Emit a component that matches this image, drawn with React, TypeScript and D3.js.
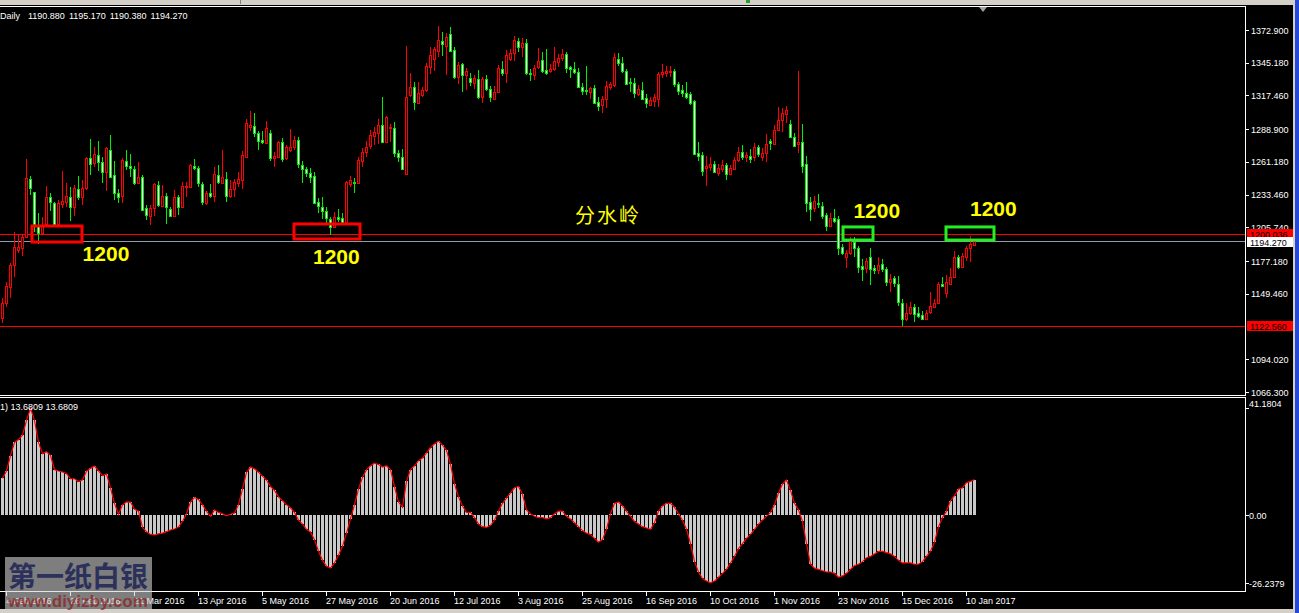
import React from "react";
import * as d3 from "d3";

// ---------- DATA ----------
const opens = [1128.7,1142.0,1155.0,1173.9,1186.6,1188.6,1197.3,1246.5,1235.4,1207.8,1200.7,1208.6,1231.2,1226.1,1208.6,1225.3,1227.5,1231.8,1223.3,1238.0,1231.8,1239.4,1264.3,1260.0,1267.1,1261.4,1253.0,1271.3,1250.1,1234.6,1232.6,1262.0,1258.0,1255.2,1243.6,1248.1,1221.9,1215.7,1221.9,1241.7,1224.2,1232.6,1221.3,1215.7,1231.2,1222.7,1239.7,1239.7,1257.7,1255.8,1242.5,1226.1,1234.6,1232.3,1250.1,1243.1,1246.5,1232.6,1238.3,1243.6,1245.9,1265.7,1291.1,1291.6,1285.4,1279.8,1277.5,1285.4,1264.3,1265.7,1277.8,1264.3,1271.3,1273.6,1279.8,1258.6,1254.9,1251.5,1249.3,1227.0,1223.3,1219.9,1212.6,1205.8,1214.8,1213.4,1210.6,1242.5,1244.5,1243.6,1262.3,1269.3,1274.7,1283.1,1285.4,1292.5,1278.4,1289.7,1289.7,1268.5,1265.1,1251.0,1317.9,1324.4,1310.8,1317.9,1322.1,1341.9,1348.1,1355.4,1363.9,1359.4,1369.3,1356.0,1333.4,1343.9,1334.8,1332.0,1327.8,1331.4,1315.9,1331.1,1322.7,1314.5,1320.1,1339.6,1336.2,1348.4,1353.7,1363.6,1358.8,1361.6,1336.2,1334.8,1341.3,1347.5,1339.1,1338.5,1339.6,1346.1,1348.9,1352.3,1341.3,1339.6,1337.6,1324.4,1322.1,1320.7,1323.5,1311.7,1309.4,1314.2,1324.4,1326.3,1348.1,1345.3,1338.2,1329.2,1327.8,1318.7,1322.1,1315.1,1309.4,1313.1,1314.5,1335.7,1336.8,1337.1,1338.2,1327.2,1322.1,1319.9,1318.7,1312.8,1268.5,1267.1,1255.8,1256.6,1259.4,1251.5,1255.2,1258.6,1251.0,1254.9,1262.8,1269.3,1265.7,1266.2,1265.1,1273.6,1265.7,1268.5,1278.9,1276.4,1288.2,1296.7,1301.8,1293.0,1282.0,1276.4,1278.1,1259.2,1227.5,1221.9,1226.7,1224.2,1216.3,1207.2,1213.4,1212.6,1189.4,1181.0,1183.8,1193.7,1188.6,1173.3,1171.1,1180.9,1171.1,1169.7,1174.5,1170.5,1159.8,1162.6,1157.5,1142.0,1128.2,1133.5,1138.6,1132.9,1131.5,1128.2,1133.8,1138.6,1142.0,1157.5,1150.5,1157.8,1163.4,1180.4,1172.5,1180.4,1188.0,1190.88];
const highs = [1145.7,1159.8,1175.3,1201.9,1199.3,1199.3,1263.4,1249.3,1236.0,1217.7,1214.3,1240.8,1234.6,1227.5,1228.9,1253.5,1243.1,1240.3,1241.7,1249.3,1245.9,1265.1,1280.6,1273.6,1278.9,1265.7,1274.1,1284.0,1262.0,1238.0,1264.8,1271.3,1267.9,1258.0,1260.9,1250.1,1224.7,1224.7,1243.6,1245.0,1241.7,1235.2,1222.7,1237.4,1233.2,1243.9,1243.9,1259.4,1263.4,1257.7,1243.9,1236.6,1242.2,1257.2,1258.6,1271.3,1253.0,1245.9,1246.5,1253.0,1270.5,1297.6,1304.6,1302.4,1287.4,1287.4,1295.9,1288.2,1269.9,1279.2,1281.2,1275.5,1288.8,1283.1,1282.0,1262.0,1257.2,1256.3,1252.4,1230.4,1231.8,1223.3,1214.8,1219.1,1221.0,1217.7,1245.3,1249.3,1247.3,1265.7,1272.7,1278.9,1288.2,1291.1,1297.3,1315.9,1300.1,1293.3,1295.3,1271.3,1272.1,1359.4,1336.2,1329.2,1328.6,1324.9,1345.3,1358.2,1358.2,1376.3,1371.0,1370.1,1375.2,1358.2,1346.1,1345.3,1341.0,1336.2,1334.8,1339.1,1332.8,1334.8,1325.5,1325.5,1343.3,1347.0,1356.0,1356.6,1367.8,1365.9,1365.9,1365.0,1339.6,1343.3,1357.4,1354.0,1356.6,1344.1,1358.2,1352.6,1356.6,1354.0,1342.4,1345.5,1340.5,1328.3,1342.4,1324.9,1326.3,1316.5,1317.0,1330.0,1329.2,1353.1,1353.1,1349.8,1339.6,1332.0,1332.0,1326.3,1328.6,1318.7,1315.9,1318.7,1337.6,1344.1,1342.4,1342.4,1339.9,1329.2,1326.3,1329.2,1320.7,1313.6,1277.8,1269.9,1266.2,1265.7,1262.3,1259.4,1262.8,1260.6,1258.6,1265.1,1274.1,1275.5,1269.3,1271.9,1276.9,1275.5,1272.7,1284.9,1280.3,1292.5,1308.0,1306.6,1308.6,1296.7,1285.4,1338.2,1293.3,1266.2,1231.2,1232.3,1234.0,1227.5,1218.2,1218.2,1221.0,1215.4,1191.7,1186.6,1197.9,1197.9,1190.0,1178.7,1179.5,1188.0,1173.9,1180.4,1178.7,1172.5,1166.3,1164.6,1164.9,1144.8,1142.0,1142.8,1140.9,1138.0,1134.9,1135.8,1151.3,1144.8,1159.8,1164.0,1165.4,1171.1,1186.0,1182.4,1183.8,1190.0,1198.5,1195.17];
const lows = [1124.5,1138.1,1145.7,1164.0,1184.0,1181.8,1196.5,1233.2,1202.1,1191.7,1199.5,1206.4,1219.9,1206.4,1207.8,1221.9,1223.3,1211.5,1215.7,1228.9,1224.7,1237.4,1250.1,1257.2,1253.8,1243.1,1236.9,1248.1,1228.9,1226.1,1226.7,1254.4,1248.7,1241.7,1243.1,1219.9,1212.0,1207.8,1215.7,1223.3,1222.7,1208.6,1214.8,1214.8,1216.3,1221.9,1231.8,1238.8,1254.4,1240.3,1224.7,1224.7,1230.4,1227.5,1242.5,1242.5,1227.5,1230.4,1231.2,1240.3,1238.0,1265.1,1287.4,1282.6,1271.3,1276.4,1276.4,1262.3,1257.2,1264.3,1261.4,1262.8,1269.9,1271.3,1255.8,1243.6,1248.1,1243.1,1226.1,1217.7,1212.9,1208.6,1199.3,1205.0,1210.6,1209.2,1208.6,1240.3,1235.2,1242.5,1257.2,1265.7,1272.1,1275.5,1276.4,1277.5,1277.5,1278.4,1265.1,1261.4,1254.4,1250.1,1315.9,1305.2,1310.3,1315.9,1320.7,1335.7,1338.5,1350.3,1351.2,1334.8,1354.6,1331.1,1327.2,1320.7,1322.1,1325.5,1323.0,1314.2,1310.8,1321.6,1312.2,1313.6,1319.3,1334.0,1328.3,1347.0,1347.0,1354.0,1349.8,1334.8,1330.0,1330.6,1339.6,1336.8,1334.8,1336.2,1338.5,1341.3,1347.0,1336.8,1332.0,1335.7,1323.5,1317.9,1317.9,1314.5,1310.8,1304.6,1302.9,1306.6,1322.1,1324.9,1342.4,1336.2,1326.3,1320.7,1315.1,1317.0,1313.6,1306.6,1308.6,1308.0,1307.4,1332.0,1332.8,1332.8,1324.9,1317.9,1315.9,1314.2,1309.4,1267.1,1262.3,1249.3,1241.1,1253.8,1251.5,1249.3,1253.0,1245.9,1250.1,1254.4,1261.4,1262.8,1261.4,1260.0,1262.3,1265.7,1262.3,1261.4,1271.3,1275.5,1287.7,1286.8,1294.4,1281.2,1274.1,1268.5,1252.1,1219.1,1211.5,1219.1,1221.9,1212.6,1203.0,1206.4,1209.2,1182.4,1182.4,1171.1,1182.4,1181.0,1166.8,1160.6,1166.8,1157.0,1166.3,1166.3,1168.3,1156.4,1151.3,1155.5,1139.2,1122.56,1126.8,1131.5,1125.9,1129.3,1127.9,1127.3,1132.4,1137.2,1140.9,1155.5,1145.7,1157.0,1162.6,1170.2,1171.9,1177.6,1176.7,1190.38];
const closes = [1142.0,1156.1,1173.9,1188.9,1189.4,1197.3,1247.3,1238.8,1208.6,1201.3,1207.8,1231.2,1227.5,1208.6,1226.1,1228.4,1232.6,1223.3,1238.8,1231.8,1239.4,1264.3,1259.2,1267.6,1261.4,1253.0,1273.3,1248.7,1235.2,1231.8,1262.8,1258.0,1255.8,1243.6,1248.1,1220.5,1216.3,1221.9,1242.5,1224.7,1232.6,1222.7,1215.7,1231.2,1222.7,1240.8,1241.1,1258.3,1255.8,1243.1,1227.5,1234.6,1232.6,1251.0,1244.5,1248.1,1232.6,1238.3,1243.9,1246.5,1267.1,1293.9,1292.5,1286.0,1279.2,1277.8,1289.7,1264.3,1266.2,1277.8,1263.4,1273.6,1274.1,1279.8,1259.2,1254.9,1251.5,1248.7,1226.7,1224.2,1219.9,1213.4,1206.4,1214.8,1212.6,1210.6,1244.5,1245.9,1243.9,1262.8,1269.3,1273.6,1284.0,1286.3,1292.5,1278.4,1299.0,1290.5,1268.5,1265.7,1255.2,1315.9,1324.4,1312.2,1319.3,1322.1,1342.4,1351.8,1356.6,1364.5,1361.1,1366.7,1355.4,1332.8,1343.3,1334.8,1338.2,1329.2,1332.0,1315.9,1331.1,1322.7,1315.9,1320.1,1340.5,1336.2,1351.8,1353.7,1364.5,1358.2,1361.6,1336.2,1335.7,1340.5,1346.7,1338.5,1336.2,1339.6,1346.7,1349.5,1352.6,1341.0,1339.6,1337.6,1324.4,1321.6,1321.6,1323.5,1311.4,1308.8,1314.2,1325.5,1327.2,1349.8,1345.3,1338.2,1327.2,1327.8,1319.3,1322.7,1314.5,1310.8,1313.6,1315.9,1335.7,1337.6,1338.2,1338.2,1327.2,1321.6,1319.9,1315.9,1311.4,1267.9,1266.5,1253.8,1258.0,1259.4,1252.4,1256.3,1258.6,1251.0,1256.3,1262.8,1269.3,1265.7,1267.1,1263.7,1273.6,1267.9,1269.0,1276.1,1276.9,1288.2,1296.7,1302.4,1305.2,1282.0,1274.7,1278.1,1258.0,1226.7,1221.0,1228.4,1225.6,1215.7,1207.2,1213.4,1211.5,1188.0,1183.8,1183.8,1195.1,1188.0,1172.5,1170.5,1177.3,1170.2,1169.7,1173.9,1170.2,1159.2,1162.0,1158.4,1142.8,1127.9,1132.9,1138.0,1132.1,1131.0,1128.2,1133.5,1139.2,1141.4,1157.5,1156.4,1159.2,1163.4,1180.4,1172.5,1181.5,1188.0,1191.4,1194.27];

const histValues = [14.2,17.0,22.9,28.0,29.1,30.8,36.5,41.18,36.5,28.0,23.7,24.4,23.0,17.5,17.0,16.6,16.0,14.0,14.0,12.9,13.6,16.9,18.0,18.9,17.0,15.2,15.8,10.5,4.5,0.3,3.9,5.1,5.0,2.2,1.5,-4.8,-6.5,-7.5,-7.7,-7.3,-7.0,-6.4,-5.8,-5.4,-4.6,-2.5,0.5,5.0,6.8,6.0,3.9,1.5,-0.5,2.0,1.0,0.5,-0.3,0.3,0.8,4.0,10.0,16.5,18.5,17.8,16.5,15.0,13.5,11.0,9.5,7.0,5.5,4.0,2.8,1.0,-2.0,-3.5,-5.5,-6.5,-9.5,-14.0,-17.5,-19.8,-20.5,-18.5,-15.5,-12.0,-7.0,-1.5,4.0,10.0,14.5,17.5,19.0,20.0,19.5,18.5,19.0,17.5,11.0,5.0,3.0,13.0,17.5,19.0,21.0,22.0,24.0,26.0,27.5,28.5,27.0,25.0,19.5,12.0,7.0,3.5,1.0,1.0,-1.0,-3.5,-4.5,-4.8,-4.0,-2.0,1.5,4.5,6.5,8.5,10.5,11.0,8.0,2.0,0.5,-0.5,-1.0,-1.0,-1.5,-1.0,0.5,1.5,1.5,-0.5,-1.5,-3.0,-4.5,-6.0,-7.0,-7.5,-9.0,-10.5,-9.5,-5.5,0.5,4.5,5.0,3.5,1.5,-0.5,-2.5,-3.5,-4.5,-5.0,-5.5,-3.0,1.5,3.5,4.5,4.5,3.0,0.5,-2.0,-5.5,-11.0,-18.0,-22.0,-24.5,-25.5,-26.2,-25.5,-24.0,-22.5,-21.0,-18.5,-16.0,-13.0,-11.0,-9.0,-7.5,-5.5,-3.5,-2.0,-0.5,1.0,4.0,8.5,12.0,13.5,9.5,4.5,2.0,-2.5,-11.0,-19.0,-20.5,-21.0,-21.5,-22.0,-22.0,-22.5,-24.0,-23.5,-22.5,-21.0,-19.5,-19.0,-18.0,-16.5,-16.0,-15.0,-14.0,-14.0,-14.5,-15.0,-16.0,-17.5,-18.5,-18.5,-18.5,-19.0,-19.0,-18.0,-16.0,-14.0,-10.5,-4.5,-1.0,1.5,5.5,7.5,10.0,10.5,12.5,13.0,13.6809];

const priceTicks = [1372.9, 1345.18, 1317.46, 1288.9, 1261.18, 1233.46, 1205.74, 1177.18, 1149.46, 1094.02, 1066.3];
const histTicks = [41.1804, 0, -26.2379];
const histTickLabels = ["41.1804", "0.00", "-26.2379"];
const dateLabels = ["4 Feb 2016","26 Feb 2016","21 Mar 2016","13 Apr 2016","5 May 2016","27 May 2016","20 Jun 2016","12 Jul 2016","3 Aug 2016","25 Aug 2016","16 Sep 2016","10 Oct 2016","1 Nov 2016","23 Nov 2016","15 Dec 2016","10 Jan 2017"];
const dateLabelBars = [1,17,33,49,65,81,97,113,129,145,161,177,193,209,225,241];

const levelPrices = [1200.036, 1122.56];
const bidPrice = 1194.27;
const headerText = "Daily  1190.880 1195.170 1190.380 1194.270";
const indicatorText = "1) 13.6809 13.6809";

// annotation boxes: [bar start, bar end], [price top, price bottom]
const boxBars = [[7.75, 20.25], [73.25, 89.75], [210.5, 218], [236.25, 248.25]];
const boxPrices = [[1206.9, 1193.3], [1208.6, 1195.9], [1206.1, 1195.0], [1206.1, 1195.0]];
const boxColors = ["#ff0000", "#ff0000", "#22ee22", "#22ee22"];
// "1200" labels: bar, price at baseline
const noteBars = [20.4, 78, 213.1, 242.25];
const notePrices = [1177.3, 1175.1, 1213.4, 1215.4];
const noteText = "1200";
const titleText = "分水岭";
const titleBar = 143.5;
const titlePrice = 1209.4;

const UP = "#ff0000";
const DOWN = "#00ee00";

export default function App() {
  const W = 1299, H = 613;
  const n = closes.length;
  const x = d3.scaleLinear().domain([0, n - 1]).range([1, 1 + 4 * (n - 1)]);
  const y = d3.scaleLinear().domain([1066.3, 1372.9]).range([392, 30]);
  const hy = d3.scaleLinear().domain([-26.2379, 41.1804]).range([583, 408.3]);
  const font = "'Liberation Sans', Arial, sans-serif";

  const candles = closes.map((c, i) => {
    const o = opens[i];
    const up = c >= o;
    const col = up ? UP : DOWN;
    const left = Math.round(x(i));
    const yh = Math.round(y(highs[i]));
    const yl = Math.round(y(lows[i]));
    const yt = Math.round(y(Math.max(o, c)));
    const yb = Math.round(y(Math.min(o, c)));
    const bh = Math.max(1, yb - yt);
    return (
      <g key={i}>
        <rect x={left + 1} y={yh} width={1} height={Math.max(1, yl - yh)} fill={col} />
        <rect x={left} y={yt} width={3} height={bh + 1} fill={col} />
        {bh > 1 && (
          <rect x={left + 1} y={yt + 1} width={1} height={bh - 1} fill={up ? "#000" : "#fff"} />
        )}
      </g>
    );
  });

  const zeroY = Math.round(hy(0));
  const hist = histValues.map((v, i) => {
    const left = Math.round(x(i));
    const vy = Math.round(hy(v));
    const top = Math.min(vy, zeroY);
    const h = Math.max(1, Math.abs(vy - zeroY));
    return <rect key={i} x={left} y={top} width={3} height={h} fill="#c8c8c8" />;
  });
  const histLine = d3.line<number>().x((_, i) => x(i) + 1.5).y((v) => hy(v))(histValues) || "";

  return (
    <div style={{ position: "fixed", left: 0, top: 0, width: W, height: H }}>
      <svg width={W} height={H} style={{ display: "block", background: "#000" }} fontFamily={font}>
        {/* window chrome */}
        <rect x={0} y={0} width={W} height={5} fill="#d4d0c8" />
        <rect x={240} y={0} width={1} height={4} fill="#808080" />
        <rect x={746} y={0} width={4} height={3} fill="#2c9c2c" />
        <rect x={0} y={609} width={W} height={4} fill="#d4d0c8" />
        <rect x={1293} y={0} width={2} height={H} fill="#d4d0c8" />
        <rect x={1295} y={0} width={4} height={H} fill="#2448d8" />

        {/* frame */}
        <g shapeRendering="crispEdges" stroke="#fff" strokeWidth={1}>
          <line x1={0} x2={1245.5} y1={6.5} y2={6.5} />
          <line x1={1245.5} x2={1245.5} y1={6.5} y2={395.5} />
          <line x1={0} x2={1245.5} y1={395.5} y2={395.5} />
          <line x1={0} x2={1245.5} y1={397.5} y2={397.5} />
          <line x1={1245.5} x2={1245.5} y1={397.5} y2={591.5} />
          <line x1={0} x2={1245.5} y1={591.5} y2={591.5} />
        </g>
        <path d="M979,7 L987,7 L983,12 Z" fill="#a0a0a0" />

        {/* header */}
        <text x={0} y={19} fill="#fff" fontSize={9} wordSpacing={1.5} style={{ whiteSpace: "pre" }}>{headerText}</text>

        {/* price axis */}
        {priceTicks.map((p) => (
          <g key={p}>
            <rect x={1246} y={Math.round(y(p))} width={3} height={1} fill="#fff" />
            <text x={1251} y={y(p) + 3.5} fill="#fff" fontSize={9}>{p.toFixed(3)}</text>
          </g>
        ))}

        {/* level lines */}
        <g shapeRendering="crispEdges">
          {levelPrices.map((p) => (
            <rect key={p} x={0} y={Math.round(y(p))} width={1245} height={1} fill="#ff0000" />
          ))}
          <rect x={0} y={Math.round(y(bidPrice))} width={1245} height={1} fill="#8f9aab" />
        </g>
        {levelPrices.map((p) => (
          <g key={"l" + p}>
            <rect x={1247} y={Math.round(y(p)) - 5} width={46} height={10} fill="#ff0000" />
            <text x={1250} y={Math.round(y(p)) + 3.5} fill="#000" fontSize={9}>{p.toFixed(3)}</text>
          </g>
        ))}
        <rect x={1247} y={Math.round(y(bidPrice)) - 4} width={46} height={10} fill="#fff" />
        <text x={1250} y={Math.round(y(bidPrice)) + 4.5} fill="#000" fontSize={9}>{bidPrice.toFixed(3)}</text>

        {/* candles */}
        <g shapeRendering="crispEdges">{candles}</g>

        {/* annotations */}
        {boxBars.map((b, i) => (
          <rect
            key={"b" + i}
            x={x(b[0])}
            y={y(boxPrices[i][0])}
            width={x(b[1]) - x(b[0])}
            height={y(boxPrices[i][1]) - y(boxPrices[i][0])}
            fill="none"
            stroke={boxColors[i]}
            strokeWidth={3}
          />
        ))}
        {noteBars.map((b, i) => (
          <text key={"n" + i} x={x(b)} y={y(notePrices[i])} fill="#ffff00" fontSize={21} fontWeight="bold" fontFamily={font}>
            {noteText}
          </text>
        ))}
        <text x={x(titleBar)} y={y(titlePrice)} fill="#ffff00" fontSize={20} letterSpacing={2} fontFamily="'Noto Sans CJK SC', sans-serif">
          {titleText}
        </text>

        {/* indicator */}
        <g shapeRendering="crispEdges">{hist}</g>
        <path d={histLine} fill="none" stroke="#ff0000" strokeWidth={1.2} />
        <text x={0} y={410} fill="#fff" fontSize={9}>{indicatorText}</text>
        {histTicks.map((v, i) => (
          <g key={"h" + i}>
            <rect x={1246} y={Math.round(hy(v))} width={3} height={1} fill="#fff" />
            <text x={1249} y={hy(v) + (i === 0 ? -1 : 3.5)} fill="#fff" fontSize={9}>{histTickLabels[i]}</text>
          </g>
        ))}

        {/* time axis */}
        {dateLabelBars.map((b, i) => (
          <g key={"d" + i}>
            <rect x={Math.round(x(b)) + 1} y={592} width={1} height={4} fill="#fff" />
            <text x={x(b) + 1} y={604} fill="#fff" fontSize={9}>{dateLabels[i]}</text>
          </g>
        ))}

        {/* watermark (semi-transparent overlay) */}
        <rect x={5} y={557} width={147} height={53} fill="#d2d2d2" opacity={0.6} />
        <text x={8} y={587} fill="#1d2456" fontSize={28} fontWeight="bold" fontFamily="'Noto Sans CJK SC', sans-serif" opacity={0.85}>
          第一纸白银
        </text>
        <text x={8} y={607} fill="#8a1c1c" fontSize={17} fontWeight="bold" fontFamily={font} opacity={0.7}>
          www.diyizby.com
        </text>
      </svg>
    </div>
  );
}
